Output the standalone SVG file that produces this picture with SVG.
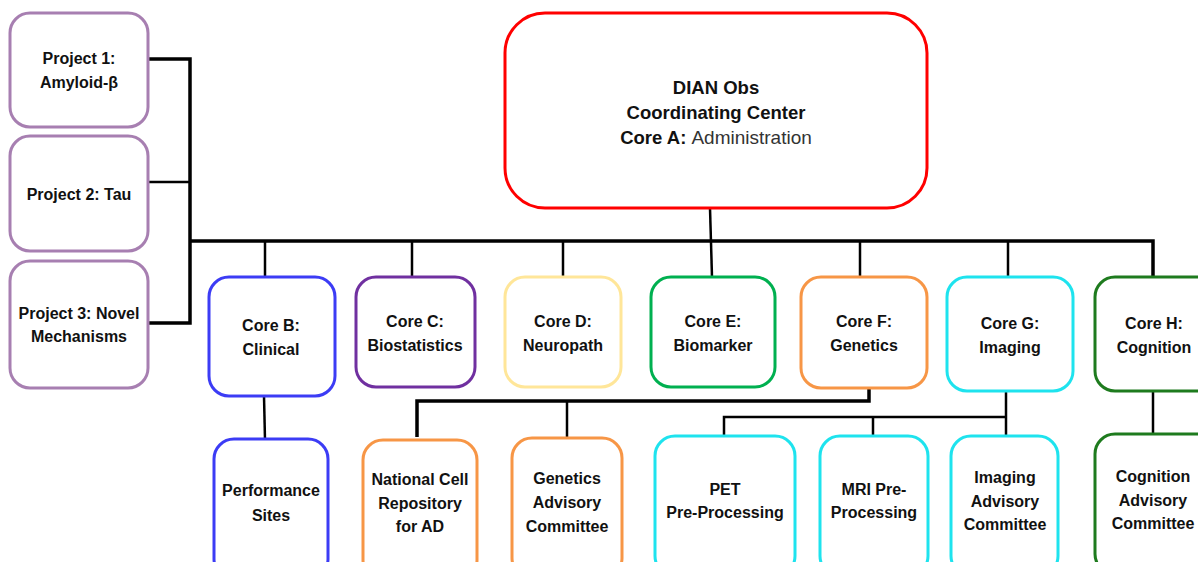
<svg xmlns="http://www.w3.org/2000/svg" width="1198" height="562" viewBox="0 0 1198 562">
  <style>
    .box { fill: #ffffff; stroke-width: 3; }
    .proj { stroke: #a77fb1; }
    .lbl { font-family: "Liberation Sans", Arial, sans-serif; font-weight: bold; font-size: 16px; fill: #111111; text-anchor: middle; }
    .sm { font-size: 16px; }
    .big { font-size: 18.5px; }
    .reg { font-weight: normal; fill: #333333; font-size: 19px; }
    .wire { fill: none; stroke: #000000; stroke-width: 3.5; stroke-linejoin: miter; }
    .drop { fill: none; stroke: #000000; stroke-width: 2.5; }
  </style>
  <rect width="1198" height="562" fill="#ffffff"/>

  <!-- connectors -->
  <g id="connectors">
    <path class="wire" d="M148 59 H190 V323 H148"/>
    <path class="drop" d="M148 182 H190"/>
    <path class="wire" d="M190 241 H1153 V277"/>
    <path class="drop" d="M710 208 L712 277"/>
    <path class="drop" d="M265 241 V277"/>
    <path class="drop" d="M412 241 V277"/>
    <path class="drop" d="M563 241 V277"/>
    <path class="drop" d="M860 241 V277"/>
    <path class="drop" d="M1008 241 V277"/>
    <path class="drop" d="M264 396 L265 440"/>
    <path class="wire" d="M869 388 V401 H417 V437"/>
    <path class="drop" d="M567 401 V438"/>
    <path class="drop" d="M1006 391 V436"/>
    <path class="drop" d="M1006 417 H724 V436"/>
    <path class="drop" d="M873 417 V436"/>
    <path class="drop" d="M1153 391 V434"/>
  </g>

  <!-- projects -->
  <g id="project1">
    <rect class="box proj" x="10" y="13" width="138" height="114" rx="20"/>
    <text class="lbl sm" x="79" y="64">Project 1:</text>
    <text class="lbl sm" x="79" y="88">Amyloid-β</text>
  </g>
  <g id="project2">
    <rect class="box proj" x="10" y="136" width="138" height="115" rx="20"/>
    <text class="lbl sm" x="79" y="200">Project 2: Tau</text>
  </g>
  <g id="project3">
    <rect class="box proj" x="10" y="261" width="138" height="127" rx="20"/>
    <text class="lbl sm" x="79" y="319">Project 3: Novel</text>
    <text class="lbl sm" x="79" y="342">Mechanisms</text>
  </g>

  <!-- coordinating center -->
  <g id="coreA">
    <rect class="box" x="505" y="13" width="422" height="195" rx="40" stroke="#ff0000" stroke-width="4"/>
    <text class="lbl big" x="716" y="94">DIAN Obs</text>
    <text class="lbl big" x="716" y="119">Coordinating Center</text>
    <text class="lbl big" x="716" y="144">Core A: <tspan class="reg">Administration</tspan></text>
  </g>

  <!-- cores -->
  <g id="coreB">
    <rect class="box" x="209" y="277" width="126" height="119" rx="20" stroke="#3c3cf5"/>
    <text class="lbl" x="271" y="331">Core B:</text>
    <text class="lbl" x="271" y="355">Clinical</text>
  </g>
  <g id="coreC">
    <rect class="box" x="356" y="277" width="119" height="110" rx="20" stroke="#7030a0"/>
    <text class="lbl" x="415" y="327">Core C:</text>
    <text class="lbl" x="415" y="351">Biostatistics</text>
  </g>
  <g id="coreD">
    <rect class="box" x="505" y="277" width="116" height="110" rx="20" stroke="#ffe699"/>
    <text class="lbl" x="563" y="327">Core D:</text>
    <text class="lbl" x="563" y="351">Neuropath</text>
  </g>
  <g id="coreE">
    <rect class="box" x="651" y="277" width="124" height="110" rx="20" stroke="#00b050"/>
    <text class="lbl" x="713" y="327">Core E:</text>
    <text class="lbl" x="713" y="351">Biomarker</text>
  </g>
  <g id="coreF">
    <rect class="box" x="801" y="277" width="126" height="111" rx="20" stroke="#f79646"/>
    <text class="lbl" x="864" y="327">Core F:</text>
    <text class="lbl" x="864" y="351">Genetics</text>
  </g>
  <g id="coreG">
    <rect class="box" x="947" y="277" width="126" height="114" rx="20" stroke="#1ee3ee"/>
    <text class="lbl" x="1010" y="329">Core G:</text>
    <text class="lbl" x="1010" y="353">Imaging</text>
  </g>
  <g id="coreH">
    <rect class="box" x="1095" y="277" width="126" height="114" rx="20" stroke="#1e7b1e"/>
    <text class="lbl" x="1154" y="329">Core H:</text>
    <text class="lbl" x="1154" y="353">Cognition</text>
  </g>

  <!-- sub-units -->
  <g id="performanceSites">
    <rect class="box" x="214" y="439" width="114" height="140" rx="20" stroke="#3c3cf5"/>
    <text class="lbl" x="271" y="496">Performance</text>
    <text class="lbl" x="271" y="521">Sites</text>
  </g>
  <g id="cellRepository">
    <rect class="box" x="363" y="440" width="114" height="140" rx="20" stroke="#f79646"/>
    <text class="lbl" x="420" y="485">National Cell</text>
    <text class="lbl" x="420" y="509">Repository</text>
    <text class="lbl" x="420" y="532">for AD</text>
  </g>
  <g id="geneticsAdvisory">
    <rect class="box" x="512" y="438" width="110" height="140" rx="20" stroke="#f79646"/>
    <text class="lbl" x="567" y="484">Genetics</text>
    <text class="lbl" x="567" y="508">Advisory</text>
    <text class="lbl" x="567" y="532">Committee</text>
  </g>
  <g id="petPreprocessing">
    <rect class="box" x="655" y="436" width="140" height="140" rx="20" stroke="#1ee3ee"/>
    <text class="lbl" x="725" y="495">PET</text>
    <text class="lbl" x="725" y="518">Pre-Processing</text>
  </g>
  <g id="mriPreprocessing">
    <rect class="box" x="820" y="436" width="108" height="140" rx="20" stroke="#1ee3ee"/>
    <text class="lbl" x="874" y="495">MRI Pre-</text>
    <text class="lbl" x="874" y="518">Processing</text>
  </g>
  <g id="imagingAdvisory">
    <rect class="box" x="951" y="436" width="107" height="140" rx="20" stroke="#1ee3ee"/>
    <text class="lbl" x="1005" y="483">Imaging</text>
    <text class="lbl" x="1005" y="507">Advisory</text>
    <text class="lbl" x="1005" y="530">Committee</text>
  </g>
  <g id="cognitionAdvisory">
    <rect class="box" x="1095" y="434" width="126" height="140" rx="20" stroke="#1e7b1e"/>
    <text class="lbl" x="1153" y="482">Cognition</text>
    <text class="lbl" x="1153" y="506">Advisory</text>
    <text class="lbl" x="1153" y="529">Committee</text>
  </g>
</svg>
